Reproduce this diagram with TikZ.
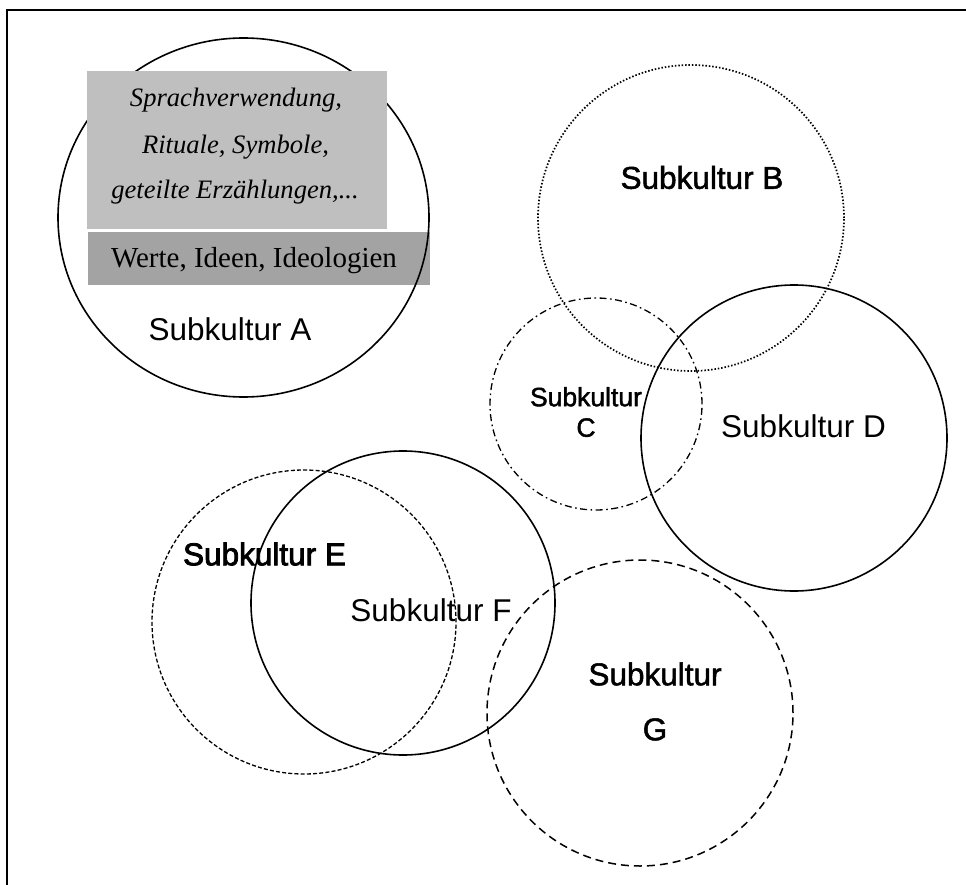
\documentclass[tikz,border=0pt]{standalone}
\usepackage{fontspec}
\setmainfont{Liberation Serif}
\newfontfamily\labelfont{Liberation Sans}
\newfontfamily\roughlabelfont[FakeBold=1.6]{Liberation Sans}
\newfontfamily\heavylabelfont[FakeBold=2.6]{Liberation Sans}
\usetikzlibrary{shapes.geometric}
\definecolor{boxlight}{gray}{0.75}
\definecolor{boxdark}{gray}{0.64}
\begin{document}
\begin{tikzpicture}[x=1pt,y=-1pt,
  ring/.style={circle, draw, inner sep=0pt, minimum size=#1},
  solidline/.style={line width=1.6pt},
  dottedline/.style={line width=1.7pt, dash pattern=on 1.5pt off 1.9pt},
  dashdotline/.style={line width=1.3pt, dash pattern=on 7pt off 3.5pt on 1.6pt off 3.5pt},
  finedashline/.style={line width=1.3pt, dash pattern=on 4pt off 2.2pt},
  longdashline/.style={line width=1.5pt, dash pattern=on 8pt off 5pt},
  sublabel/.style={inner sep=0pt, font=\labelfont\fontsize{31.5}{36}\selectfont},
  roughlabel/.style={inner sep=0pt, font=\roughlabelfont\fontsize{31.5}{36}\selectfont},
  greybox/.style={draw=none, inner sep=0pt, anchor=north west},
  boxtext/.style={inner sep=0pt, anchor=base},
]
\path[use as bounding box] (0,0) rectangle (966,885);
\fill[white] (0,0) rectangle (966,885);

% outer frame, running off the right and bottom edges
\coordinate (frameBL) at (7,885);
\coordinate (frameTL) at (7,10);
\coordinate (frameTR) at (966,10);
\draw[line width=2pt] (frameBL) -- (frameTL) -- (frameTR);

% Subkultur A with its two layers
\node[greybox, fill=boxdark, minimum width=342pt, minimum height=53pt] (layerValues) at (88,232) {};
\node[ellipse, draw, solidline, inner sep=0pt, minimum width=371pt, minimum height=359pt] (circA) at (243.5,217.5) {};
\node[greybox, fill=boxlight, minimum width=300pt, minimum height=158pt] (layerSymbols) at (87,71) {};
\begin{scope}[font=\itshape\fontsize{26.6}{30}\selectfont]
  \node[boxtext] (symLine1) at (236,107) {Sprachverwendung,};
  \node[boxtext] (symLine2) at (235.5,154) {Rituale, Symbole,};
  \node[boxtext] (symLine3) at (235,199) {geteilte Erzählungen,...};
\end{scope}
\node[boxtext, font=\fontsize{29}{33}\selectfont] (valLine) at (254,268) {Werte, Ideen, Ideologien};
\node[sublabel] (labA) at (230,329) {Subkultur A};

% the other subcultures
\node[ring=306pt, dottedline] (circB) at (691,218) {};
\node[ring=212pt, dashdotline] (circC) at (596,404) {};
\node[ring=306pt, solidline] (circD) at (794,438) {};
\node[ring=304pt, finedashline] (circE) at (304,622) {};
\node[ring=304pt, solidline] (circF) at (403,603) {};
\node[ring=306pt, longdashline] (circG) at (640,713) {};

\node[roughlabel] (labB) at (702,177.5) {Subkultur B};
\node[inner sep=0pt, align=center, font=\roughlabelfont\fontsize{26.5}{30.5}\selectfont] (labC) at (586,412) {Subkultur\\C};
\node[sublabel] (labD) at (803.5,426) {Subkultur D};
\node[inner sep=0pt, font=\heavylabelfont\fontsize{31.5}{36}\selectfont] (labE) at (264.5,554) {Subkultur E};
\node[sublabel] (labF) at (431,610) {Subkultur F};
\node[inner sep=0pt, align=center, font=\roughlabelfont\fontsize{31.5}{55}\selectfont] (labG) at (655,701.5) {Subkultur\\G};
\end{tikzpicture}
\end{document}
